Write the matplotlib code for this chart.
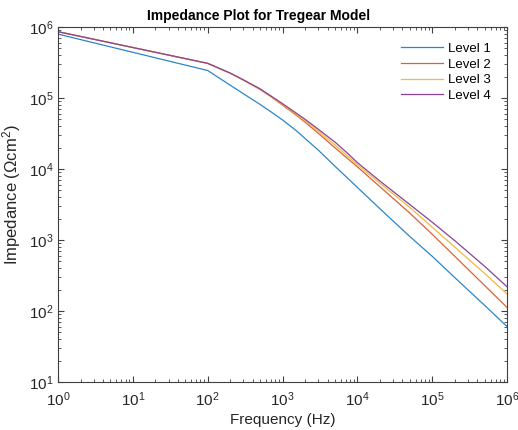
import matplotlib
matplotlib.use('Agg')
import matplotlib.pyplot as plt
import matplotlib.ticker as mticker
import numpy as np

plt.rcParams['font.family'] = ['Liberation Sans', 'DejaVu Sans']
plt.rcParams['mathtext.fontset'] = 'custom'
plt.rcParams['mathtext.rm'] = 'Liberation Sans'
plt.rcParams['mathtext.it'] = 'Liberation Sans:italic'
plt.rcParams['mathtext.bf'] = 'Liberation Sans:bold'

# frequencies (Hz) and log10 impedance
freq = [1, 100, 200, 300, 500, 700, 1e3, 1.5e3, 2e3, 3e3, 5e3, 7e3, 1e4,
        2e4, 5e4, 1e5, 2e5, 5e5, 1e6]
level1 = [5.900, 5.387, 5.180, 5.060, 4.910, 4.805, 4.690, 4.546, 4.430, 4.266, 4.040, 3.895, 3.740,
          3.440, 3.050, 2.770, 2.470, 2.080, 1.780]
level2 = [5.934, 5.488, 5.350, 5.253, 5.120, 5.018, 4.900, 4.763, 4.660, 4.503, 4.300, 4.169, 4.030,
          3.750, 3.380, 3.080, 2.770, 2.360, 2.050]
level3 = [5.934, 5.488, 5.350, 5.253, 5.125, 5.023, 4.910, 4.776, 4.680, 4.534, 4.340, 4.205, 4.060,
          3.800, 3.460, 3.180, 2.900, 2.530, 2.240]
level4 = [5.934, 5.488, 5.350, 5.255, 5.130, 5.028, 4.920, 4.792, 4.700, 4.560, 4.380, 4.244, 4.090,
          3.830, 3.500, 3.250, 2.990, 2.630, 2.340]
labels = ['Level 1', 'Level 2', 'Level 3', 'Level 4']
colors = ['#2a86c8', '#dc6235', '#eebb3a', '#8a429a']

fig = plt.figure(figsize=(5.18, 4.30), dpi=100)
ax = fig.add_axes([0.112, 0.1116, 0.867, 0.8256])

for vals, lab, c in zip([level1, level2, level3, level4], labels, colors):
    ax.loglog(freq, 10 ** np.array(vals), color=c, linewidth=0.9, label=lab)

ax.set_xlim(1, 1e6)
ax.set_ylim(10, 1e6)
ax.set_xticks([10 ** k for k in range(7)])
ax.set_yticks([10 ** k for k in range(1, 7)])
for axis in (ax.xaxis, ax.yaxis):
    axis.set_minor_locator(mticker.LogLocator(base=10, subs=range(2, 10), numticks=100))
    axis.set_minor_formatter(mticker.NullFormatter())

grey = '#404040'
for s in ax.spines.values():
    s.set_color(grey)
    s.set_linewidth(0.8)
ax.tick_params(which='both', direction='in', top=True, right=True, colors=grey,
               labelcolor='#262626', labelsize=11)
ax.tick_params(which='major', length=4)
ax.tick_params(which='minor', length=2)
ax.tick_params(axis='x', which='major', pad=6)

fig.text(0.5, 0.962, 'Impedance Plot for Tregear Model', ha='center', va='center',
         fontsize=10, fontweight='bold')
ax.set_xlabel('Frequency (Hz)', fontsize=11, color='#262626', labelpad=3)
ax.set_ylabel('Impedance ($\\Omega$cm$^2$)', fontsize=12, color='#262626')
ax.yaxis.set_label_coords(-0.077, 0.527)

ax.legend(loc='upper right', frameon=False, fontsize=9.5, handlelength=3.2,
          handletextpad=0.4, labelspacing=0.25, borderaxespad=0.8)

plt.savefig('out.png', dpi=100)
